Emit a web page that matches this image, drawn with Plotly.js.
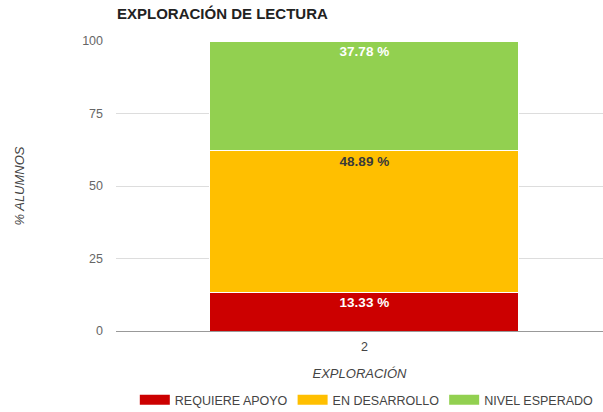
<!DOCTYPE html>
<html>
<head>
<meta charset="utf-8">
<script src="https://cdn.plot.ly/plotly-3.0.1.min.js"></script>
<style>html,body{margin:0;padding:0;background:#fff;}#chart{width:603px;height:412px;}</style>
</head>
<body>
<div id="chart"></div>
<script>
const categories = ['2'];
const seriesNames = ['REQUIERE APOYO', 'EN DESARROLLO', 'NIVEL ESPERADO'];
const requiereApoyo = [13.33];
const enDesarrollo = [48.89];
const nivelEsperado = [37.78];
const seriesColors = ['#cc0000', '#ffbf00', '#92d050'];
const labelColors = ['#ffffff', '#3a3a3a', '#ffffff'];
const yTicks = [0, 25, 50, 75, 100];

const values = [requiereApoyo, enDesarrollo, nivelEsperado];
const FONT = 'Liberation Sans, Arial, sans-serif';

const barTraces = values.map((v, i) => ({
  type: 'bar',
  name: seriesNames[i],
  x: categories,
  y: v,
  width: 0.634,
  showlegend: false,
  marker: {color: seriesColors[i], line: {color: '#ffffff', width: 1}},
  texttemplate: '%{y:.2f} %',
  textposition: 'inside',
  insidetextanchor: 'end',
  textangle: 0,
  textfont: {family: FONT, size: 13.5, color: labelColors[i], weight: 'bold'},
  hoverinfo: 'none'
}));

// legend-only entries (wide rectangular swatches)
const legendTraces = seriesNames.map((n, i) => ({
  type: 'scatter',
  mode: 'lines',
  name: n,
  x: [null],
  y: [null],
  line: {color: seriesColors[i], width: 10},
  showlegend: true,
  hoverinfo: 'none'
}));

const layout = {
  width: 603, height: 412,
  margin: {l: 116, r: 0, t: 41, b: 81},
  barmode: 'stack',
  paper_bgcolor: '#fff', plot_bgcolor: '#fff',
  font: {family: FONT, size: 12.5, color: '#555'},
  title: {
    text: '<b>EXPLORACIÓN DE LECTURA</b>',
    font: {family: FONT, size: 15, color: '#222'},
    x: 117/603, xref: 'container', xanchor: 'left',
    y: 1 - 14/412, yref: 'container', yanchor: 'middle'
  },
  xaxis: {
    type: 'category',
    range: [-0.51, 0.49],
    showgrid: false, zeroline: false, showline: false,
    ticks: '',
    ticklabelstandoff: 6,
    tickfont: {family: FONT, size: 12.5, color: '#444'},
    title: {text: '<i>EXPLORACIÓN</i>', font: {family: FONT, size: 13, color: '#444'}, standoff: 16}
  },
  yaxis: {
    range: [0, 100],
    tickvals: yTicks,
    showgrid: true, gridcolor: '#dddddd', gridwidth: 1,
    zeroline: true, zerolinecolor: '#999999', zerolinewidth: 1,
    showline: false, ticks: '',
    ticklabelstandoff: 12,
    tickfont: {family: FONT, size: 12.5, color: '#666'},
    title: {text: '<i>% ALUMNOS</i>', font: {family: FONT, size: 13, color: '#444'}, standoff: 54}
  },
  showlegend: true,
  legend: {
    orientation: 'h',
    x: 0.515, xanchor: 'center',
    y: 1 - 400/412, yref: 'container', yanchor: 'middle',
    traceorder: 'normal',
    font: {family: FONT, size: 12.5, color: '#444'},
    itemwidth: 30
  }
};

Plotly.newPlot('chart', barTraces.concat(legendTraces), layout, {displayModeBar: false, staticPlot: true});
</script>
</body>
</html>
